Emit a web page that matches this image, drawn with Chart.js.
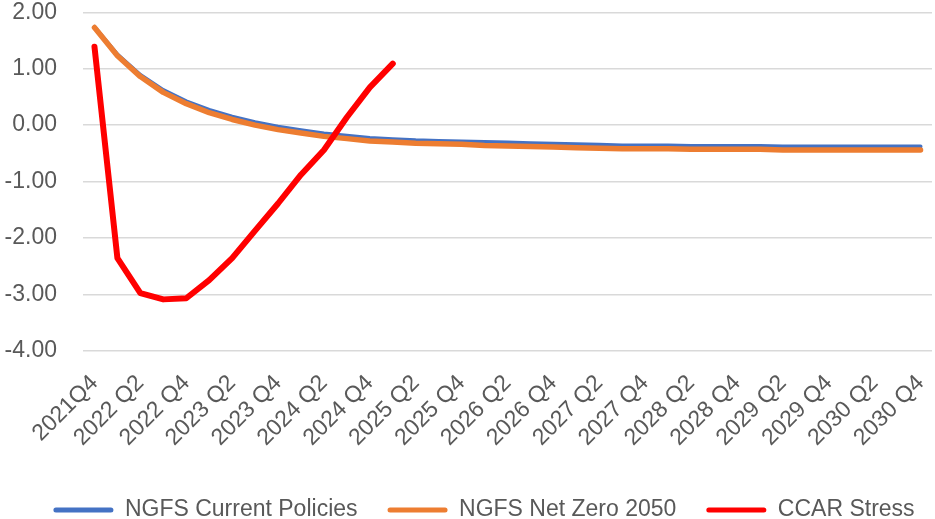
<!DOCTYPE html>
<html>
<head>
<meta charset="utf-8">
<script src="https://cdn.jsdelivr.net/npm/chart.js@4.4.1/dist/chart.umd.min.js"></script>
<style>
  html, body { margin: 0; padding: 0; background: #ffffff; }
  #wrap { width: 935px; height: 519px; position: relative; }
</style>
</head>
<body>
<div id="wrap"><canvas id="c"></canvas></div>
<script>
// ---- data ----
const categories = [
  "2021Q4",
  "2022 Q1", "2022 Q2", "2022 Q3", "2022 Q4",
  "2023 Q1", "2023 Q2", "2023 Q3", "2023 Q4",
  "2024 Q1", "2024 Q2", "2024 Q3", "2024 Q4",
  "2025 Q1", "2025 Q2", "2025 Q3", "2025 Q4",
  "2026 Q1", "2026 Q2", "2026 Q3", "2026 Q4",
  "2027 Q1", "2027 Q2", "2027 Q3", "2027 Q4",
  "2028 Q1", "2028 Q2", "2028 Q3", "2028 Q4",
  "2029 Q1", "2029 Q2", "2029 Q3", "2029 Q4",
  "2030 Q1", "2030 Q2", "2030 Q3", "2030 Q4"
];
const currentPolicies = [
  1.74, 1.25, 0.89, 0.62, 0.42, 0.27, 0.15, 0.05, -0.03, -0.09, -0.15, -0.19, -0.23,
  -0.25, -0.27, -0.28, -0.29, -0.30, -0.31, -0.32, -0.33, -0.34, -0.35, -0.36, -0.36,
  -0.36, -0.37, -0.37, -0.37, -0.37, -0.38, -0.38, -0.38, -0.38, -0.38, -0.38, -0.38
];
const netZero2050 = [
  1.73, 1.23, 0.86, 0.58, 0.38, 0.22, 0.10, 0.00, -0.08, -0.14, -0.20, -0.24, -0.28,
  -0.30, -0.32, -0.33, -0.34, -0.36, -0.37, -0.38, -0.39, -0.40, -0.41, -0.42, -0.42,
  -0.42, -0.43, -0.43, -0.43, -0.43, -0.44, -0.44, -0.44, -0.44, -0.44, -0.44, -0.44
];
const ccarStress = [
  1.39, -2.36, -2.98, -3.09, -3.07, -2.75, -2.36, -1.87, -1.39, -0.88, -0.44, 0.14, 0.67, 1.09
];
const yTicks = [-4, -3, -2, -1, 0, 1, 2];
const seriesNames = ["NGFS Current Policies", "NGFS Net Zero 2050", "CCAR Stress"];
const seriesColors = ["#4472C4", "#ED7D31", "#FF0000"];

const FONT = "'Liberation Sans', Arial, sans-serif";
const FS = 23;
const TEXT = "#595959";

// shift the legend row sideways to match the reference's placement
const legendShift = {
  id: 'legendShift',
  afterLayout(chart) {
    const l = chart.legend;
    if (l) { l.left += 18; l.right += 18; }
  }
};

new Chart(document.getElementById('c'), {
  type: 'line',
  data: {
    labels: categories,
    datasets: [
      { label: seriesNames[0], data: currentPolicies, borderColor: seriesColors[0], backgroundColor: seriesColors[0],
        borderWidth: 4, pointRadius: 0, tension: 0, order: 3, borderCapStyle: 'round', borderJoinStyle: 'round' },
      { label: seriesNames[1], data: netZero2050, borderColor: seriesColors[1], backgroundColor: seriesColors[1],
        borderWidth: 5.5, pointRadius: 0, tension: 0, order: 2, borderCapStyle: 'round', borderJoinStyle: 'round' },
      { label: seriesNames[2], data: ccarStress, borderColor: seriesColors[2], backgroundColor: seriesColors[2],
        borderWidth: 6, pointRadius: 0, tension: 0, order: 1, borderCapStyle: 'round', borderJoinStyle: 'round' }
    ]
  },
  plugins: [legendShift],
  options: {
    responsive: true,
    maintainAspectRatio: false,
    animation: false,
    devicePixelRatio: 1,
    layout: { padding: { left: 0, right: 3, top: 0, bottom: -12.5 } },
    plugins: {
      tooltip: { enabled: false },
      legend: {
        position: 'bottom',
        labels: {
          font: { family: FONT, size: FS },
          color: TEXT,
          boxWidth: 60,
          boxHeight: 5,
          padding: 30,
          useBorderRadius: true,
          borderRadius: 2.5,
          sort: (a, b) => a.datasetIndex - b.datasetIndex,
          generateLabels: (chart) => Chart.defaults.plugins.legend.labels.generateLabels(chart)
            .map(l => Object.assign(l, { fillStyle: l.strokeStyle, lineWidth: 0 }))
        }
      }
    },
    scales: {
      x: {
        offset: true,
        grid: { display: false, drawTicks: false },
        border: { display: false },
        ticks: {
          autoSkip: false,
          minRotation: 45,
          maxRotation: 45,
          padding: 19,
          color: TEXT,
          font: { family: FONT, size: FS },
          callback: function (v, i) { return i % 2 === 0 ? categories[i] : ''; }
        },
        afterFit: (s) => { s.height = 117.8; s.paddingLeft = 0; s.paddingRight = 0; }
      },
      y: {
        min: -4,
        max: 2,
        afterBuildTicks: (s) => { s.ticks = yTicks.map(v => ({ value: v })); },
        grid: { color: '#D9D9D9', lineWidth: 1.5, drawTicks: false },
        border: { display: false },
        ticks: {
          padding: 26,
          color: TEXT,
          font: { family: FONT, size: FS, lineHeight: 1.07 },
          callback: (v) => Number(v).toFixed(2)
        },
        afterFit: (s) => { s.width = 83; s.paddingTop = 12.3; s.paddingBottom = 12.3; }
      }
    }
  }
});
</script>
</body>
</html>
